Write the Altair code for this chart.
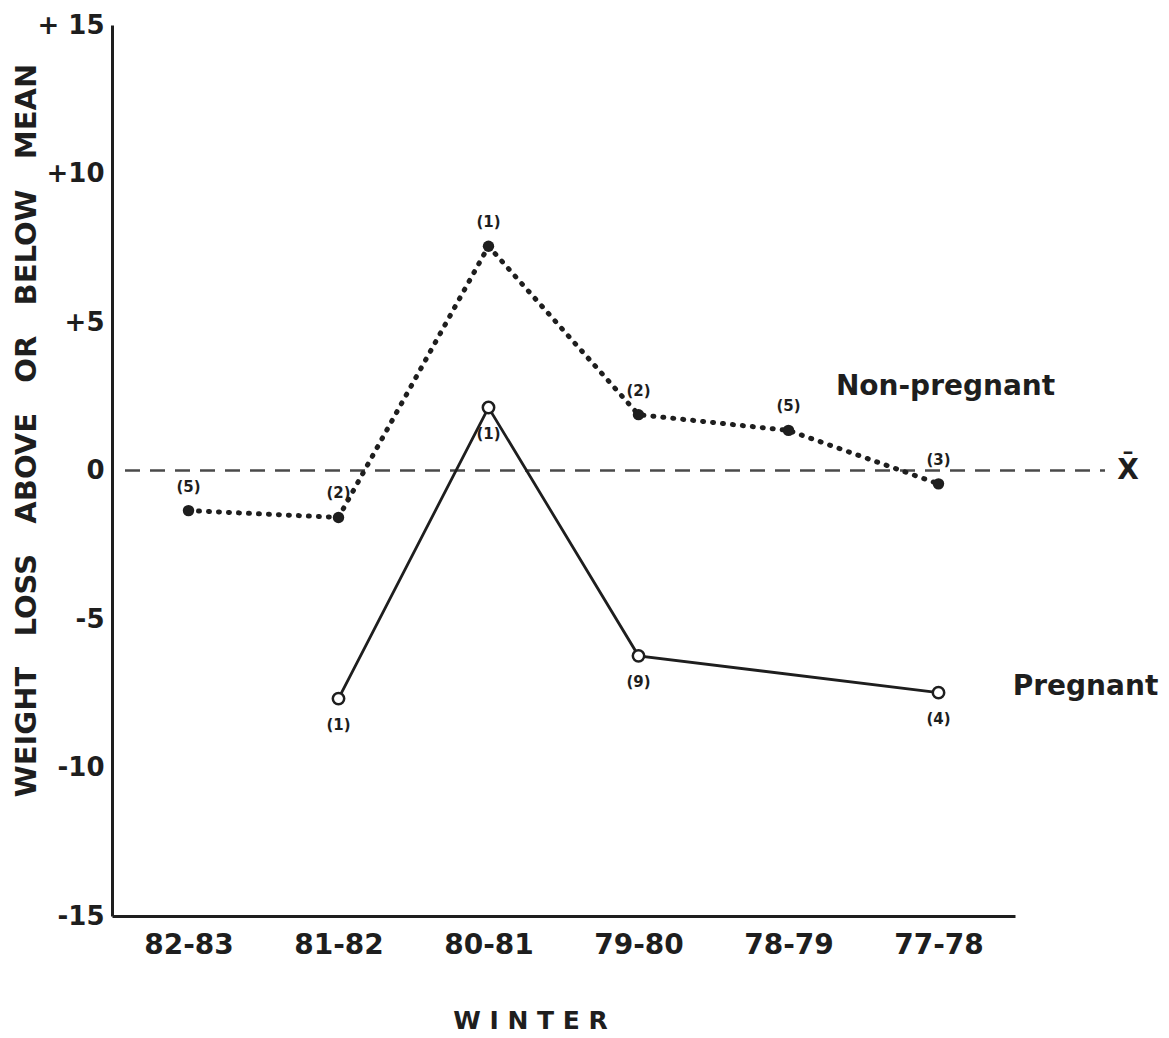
import altair as alt
import pandas as pd

winters = ["82-83", "81-82", "80-81", "79-80", "78-79", "77-78"]

nonpreg_winters = ["82-83", "81-82", "80-81", "79-80", "78-79", "77-78"]
nonpreg_values = [-1.35, -1.58, 7.55, 1.88, 1.35, -0.45]
nonpreg_counts = ["(5)", "(2)", "(1)", "(2)", "(5)", "(3)"]

preg_winters = ["81-82", "80-81", "79-80", "77-78"]
preg_values = [-7.68, 2.12, -6.24, -7.48]
preg_counts = ["(1)", "(1)", "(9)", "(4)"]

y_ticks = [-15, -10, -5, 0, 5, 10, 15]

INK = "#1e1e1e"
FONT = "DejaVu Sans"

np_df = pd.DataFrame({"winter": nonpreg_winters, "value": nonpreg_values, "n": nonpreg_counts})
p_df = pd.DataFrame({"winter": preg_winters, "value": preg_values, "n": preg_counts})
zero_df = pd.DataFrame({"value": [0]})

x_enc = alt.X(
    "winter:N",
    sort=winters,
    scale=alt.Scale(type="point", domain=winters, padding=0.51),
    axis=alt.Axis(
        title="W I N T E R",
        titleFont=FONT,
        titleFontSize=25,
        titleFontWeight="bold",
        titleColor=INK,
        titleX=418,
        titleY=104,
        titleBaseline="middle",
        titleAlign="center",
        labelFont=FONT,
        labelFontSize=28,
        labelFontWeight="bold",
        labelColor=INK,
        labelPadding=15,
        labelAngle=0,
        ticks=False,
        domainColor=INK,
        domainWidth=3,
        grid=False,
    ),
)

nbsp3 = "\u00a0\u00a0\u00a0"
y_title = nbsp3.join(["WEIGHT", "LOSS", "ABOVE", "OR", "BELOW", "MEAN"])

y_enc = alt.Y(
    "value:Q",
    scale=alt.Scale(domain=[-15, 15], nice=False, zero=False),
    axis=alt.Axis(
        title=y_title,
        titleFont=FONT,
        titleFontSize=29,
        titleFontWeight="bold",
        titleColor=INK,
        titleX=-86,
        titleY=405,
        titleAngle=-90,
        titleAlign="center",
        titleBaseline="middle",
        values=y_ticks,
        labelExpr="datum.value == 15 ? '+ 15' : (datum.value > 0 ? '+' + datum.value : (datum.value < 0 ? '-' + abs(datum.value) : '0'))",
        labelFont=FONT,
        labelFontSize=26,
        labelFontWeight="bold",
        labelColor=INK,
        labelPadding=8,
        ticks=False,
        domainColor=INK,
        domainWidth=3,
        grid=False,
    ),
)

zero_rule = alt.Chart(zero_df).mark_rule(
    color="#4a4a4a", strokeWidth=2.5, strokeDash=[15, 10]
).encode(y=alt.Y("value:Q"), x=alt.value(13), x2=alt.value(993))

xbar = alt.Chart(zero_df).mark_text(
    text="X\u0304", font=FONT, fontSize=28, fontWeight="bold", color=INK, align="center", baseline="middle"
).encode(y=alt.Y("value:Q"), x=alt.value(1016))

np_line = alt.Chart(np_df).mark_line(
    color=INK, strokeWidth=5, strokeDash=[1, 9], strokeCap="round"
).encode(x=x_enc, y=y_enc)

np_pts = alt.Chart(np_df).mark_point(
    shape="circle", filled=True, size=130, color=INK, opacity=1
).encode(x=x_enc, y=y_enc)

np_txt = alt.Chart(np_df).mark_text(
    font=FONT, fontSize=15, fontWeight="bold", color=INK, dy=-24
).encode(x=x_enc, y=y_enc, text="n:N")

p_line = alt.Chart(p_df).mark_line(color=INK, strokeWidth=2.8).encode(x=x_enc, y=y_enc)

p_pts = alt.Chart(p_df).mark_point(
    shape="circle", filled=True, size=130, fill="white", stroke=INK, strokeWidth=2.5, opacity=1
).encode(x=x_enc, y=y_enc)

p_txt = alt.Chart(p_df).mark_text(
    font=FONT, fontSize=15, fontWeight="bold", color=INK, dy=26
).encode(x=x_enc, y=y_enc, text="n:N")

np_label = alt.Chart(zero_df).mark_text(
    text="Non-pregnant", font=FONT, fontSize=28, fontWeight="bold", color=INK, align="center", baseline="middle", dx=7
).encode(x=alt.datum("77-78"), y=alt.datum(2.8))

p_label = alt.Chart(zero_df).mark_text(
    text="Pregnant", font=FONT, fontSize=28, fontWeight="bold", color=INK, align="center", baseline="middle", dx=147
).encode(x=alt.datum("77-78"), y=alt.datum(-7.29))

chart = alt.layer(
    zero_rule, xbar, np_line, p_line, np_pts, p_pts, np_txt, p_txt, np_label, p_label
).properties(
    width=903,
    height=891,
    autosize=alt.AutoSizeParams(type="none"),
    padding={"left": 104, "top": 17, "right": 146, "bottom": 121},
    background="white",
).configure_view(stroke=None)

chart.save("out.html", embed_options={"renderer": "svg", "actions": False})
